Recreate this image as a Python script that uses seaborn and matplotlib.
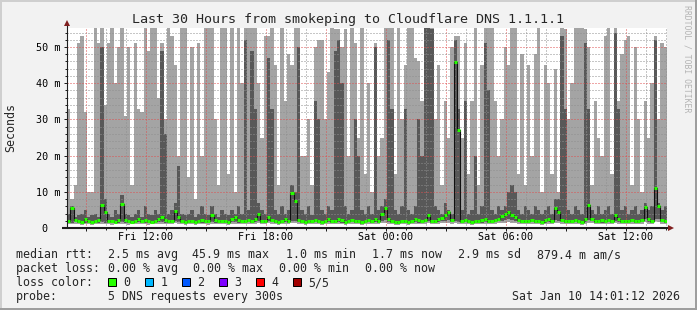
import numpy as np
import pandas as pd
import matplotlib
matplotlib.use("Agg")
import matplotlib.pyplot as plt
import seaborn as sns
from matplotlib.ticker import MultipleLocator
from matplotlib.transforms import blended_transform_factory
from matplotlib.patches import Rectangle
from matplotlib.lines import Line2D

# ---------------- data (10-minute steps, milliseconds) ----------------
ping_max = [
    33, 8, 12, 51, 53, 32, 10, 10, 60, 51,
    60, 34, 51, 60, 40, 50, 60, 31, 50, 12,
    51, 33, 32, 60, 49, 60, 60, 36, 51, 30,
    60, 53, 45, 20, 60, 60, 14, 50, 8, 51,
    20, 60, 60, 60, 30, 12, 60, 60, 15, 60,
    10, 60, 40, 60, 60, 60, 60, 40, 25, 53,
    53, 60, 45, 12, 60, 35, 48, 45, 60, 60,
    20, 20, 30, 12, 50, 52, 52, 30, 43, 60,
    55, 55, 50, 55, 20, 60, 51, 25, 60, 15,
    40, 10, 51, 20, 25, 60, 60, 60, 15, 60,
    30, 45, 60, 60, 47, 46, 35, 60, 60, 60,
    30, 45, 12, 35, 25, 50, 53, 53, 25, 51,
    15, 35, 60, 12, 45, 60, 60, 60, 35, 20,
    30, 50, 45, 60, 60, 15, 48, 12, 45, 20,
    48, 60, 10, 45, 40, 15, 44, 10, 60, 55,
    30, 40, 60, 60, 60, 55, 50, 12, 35, 25,
    20, 53, 60, 15, 56, 35, 48, 52, 53, 12,
    50, 30, 10, 35, 25, 40, 53, 30, 51, 50,
]
ping_hi = [
    4, 6, 3, 3.5, 4, 5, 3, 3.5, 4, 3,
    50, 8, 4, 3, 5, 4, 9, 4, 3.5, 3,
    4, 5, 3, 6, 4, 3.5, 5, 4, 49, 26,
    4, 5, 7, 17, 4, 3.5, 4, 5, 3, 4,
    6, 4, 3.5, 6, 4, 3, 5, 4, 3.5, 5,
    4, 6, 4, 52, 5, 49, 33, 7, 5, 4,
    47, 33, 5, 4, 6, 4, 5, 12, 10, 50,
    5, 4, 6, 3.5, 35, 30, 5, 4, 6, 5,
    49, 52, 40, 6, 4, 5, 30, 20, 5, 4,
    6, 4, 50, 5, 6, 8, 52, 33, 5, 4,
    6, 33, 5, 4, 6, 30, 20, 60, 60, 55,
    6, 5, 4, 7, 5, 4, 52, 33, 5, 35,
    4, 5, 20, 4, 6, 51, 38, 5, 4, 6,
    5, 6, 10, 12, 10, 5, 4, 6, 5, 4,
    6, 5, 4, 5, 6, 4, 8, 8, 53, 33,
    5, 4, 6, 5, 4, 51, 33, 5, 4, 6,
    4, 5, 6, 4, 54, 33, 5, 6, 4, 5,
    6, 4, 5, 7, 5, 6, 52, 7, 5, 6,
]
median_rtt = [
    2.0, 5.4, 2.2, 1.8, 1.7, 2.4, 1.9, 1.6, 1.8, 2.1,
    6.4, 4.5, 2.0, 1.8, 1.7, 2.2, 6.5, 2.1, 1.9, 1.7,
    2.0, 2.6, 1.8, 2.3, 1.9, 1.7, 2.0, 2.5, 3.0, 2.2,
    1.8, 2.0, 4.7, 3.0, 1.9, 1.7, 1.8, 2.0, 1.7, 1.9,
    2.3, 2.0, 1.8, 3.6, 2.2, 1.8, 1.9, 2.0, 1.7, 2.4,
    3.0, 2.1, 1.8, 2.0, 2.3, 1.9, 2.6, 4.0, 2.0, 1.8,
    3.0, 2.2, 1.9, 1.7, 2.0, 2.4, 1.8, 9.6, 7.5, 2.2,
    1.9, 1.7, 2.0, 1.8, 2.3, 2.0, 1.7, 1.9, 2.4, 2.0,
    1.8, 2.6, 2.1, 1.7, 1.9, 2.3, 2.0, 1.8, 1.6, 2.0,
    2.2, 1.8, 2.5, 1.9, 4.0, 5.5, 2.4, 2.0, 1.7, 1.6,
    1.8, 2.0, 1.7, 1.9, 2.4, 2.1, 1.8, 2.2, 3.5, 2.0,
    1.9, 2.4, 2.8, 3.6, 4.5, 2.2, 45.9, 27.0, 2.0, 2.3,
    1.9, 1.7, 2.0, 1.8, 2.1, 2.4, 2.0, 1.8, 2.2, 2.6,
    3.2, 3.8, 4.5, 3.5, 3.0, 2.3, 2.0, 1.8, 1.9, 2.2,
    2.0, 1.8, 1.7, 2.1, 2.4, 2.0, 5.5, 4.5, 2.2, 1.9,
    1.8, 2.0, 2.3, 1.9, 1.7, 2.4, 6.3, 2.5, 2.0, 1.8,
    2.1, 1.9, 2.2, 1.8, 3.5, 2.4, 2.0, 1.8, 1.9, 2.3,
    2.0, 1.8, 2.2, 5.8, 2.4, 2.0, 11.0, 6.0, 2.2, 2.0,
]
ping_lo = [
    1.5, 1.4, 1.6, 1.4, 1.3, 1.5, 1.4, 1.3, 1.4, 1.5,
    1.6, 1.5, 1.4, 1.3, 1.4, 1.5, 1.6, 1.4, 1.3, 1.4,
    1.5, 1.6, 1.4, 1.5, 1.3, 1.4, 1.5, 1.6, 1.7, 1.5,
    1.4, 1.5, 1.8, 1.6, 1.4, 1.3, 1.4, 1.5, 1.3, 1.4,
    1.5, 1.4, 1.3, 1.7, 1.5, 1.4, 1.4, 1.5, 1.3, 1.6,
    1.7, 1.5, 1.4, 1.5, 1.6, 1.4, 1.6, 1.8, 1.5, 1.4,
    1.8, 1.6, 1.4, 1.3, 1.5, 1.6, 1.4, 2.0, 1.9, 1.6,
    1.4, 1.3, 1.5, 1.4, 1.6, 1.5, 1.3, 1.4, 1.6, 1.5,
    1.4, 1.7, 1.5, 1.3, 1.4, 1.6, 1.5, 1.4, 1.2, 1.5,
    1.6, 1.4, 1.7, 1.4, 2.0, 2.2, 1.7, 1.5, 1.3, 1.2,
    1.4, 1.5, 1.3, 1.4, 1.6, 1.5, 1.4, 1.6, 1.9, 1.5,
    1.4, 1.6, 1.8, 2.0, 2.2, 1.6, 1.8, 1.7, 1.5, 1.6,
    1.4, 1.3, 1.5, 1.4, 1.5, 1.6, 1.5, 1.4, 1.6, 1.8,
    2.0, 2.2, 2.4, 2.1, 1.9, 1.6, 1.5, 1.4, 1.4, 1.6,
    1.5, 1.4, 1.3, 1.5, 1.7, 1.5, 2.2, 2.0, 1.6, 1.4,
    1.4, 1.5, 1.6, 1.4, 1.3, 1.7, 2.2, 1.8, 1.5, 1.4,
    1.5, 1.4, 1.6, 1.4, 1.9, 1.7, 1.5, 1.4, 1.4, 1.6,
    1.5, 1.4, 1.6, 2.4, 1.7, 1.5, 2.6, 2.4, 1.6, 1.5,
]
ping_min = [
    1.1, 1.0, 1.2, 1.0, 0.9, 1.1, 1.0, 0.9, 1.0, 1.1,
    1.2, 1.1, 1.0, 0.9, 1.0, 1.1, 1.2, 1.0, 0.9, 1.0,
    1.1, 1.2, 1.0, 1.1, 0.9, 1.0, 1.1, 1.2, 1.2, 1.1,
    1.0, 1.1, 1.3, 1.2, 1.0, 0.9, 1.0, 1.1, 0.9, 1.0,
    1.1, 1.0, 0.9, 1.2, 1.1, 1.0, 1.0, 1.1, 0.9, 1.2,
    1.2, 1.1, 1.0, 1.1, 1.2, 1.0, 1.1, 1.3, 1.1, 1.0,
    1.3, 1.2, 1.0, 0.9, 1.1, 1.2, 1.0, 1.4, 1.3, 1.2,
    1.0, 0.9, 1.1, 1.0, 1.2, 1.1, 0.9, 1.0, 1.2, 1.1,
    1.0, 1.2, 1.1, 0.9, 1.0, 1.2, 1.1, 1.0, 0.9, 1.1,
    1.2, 1.0, 1.2, 1.0, 1.4, 1.5, 1.2, 1.1, 0.9, 0.9,
    1.0, 1.1, 0.9, 1.0, 1.2, 1.1, 1.0, 1.2, 1.3, 1.1,
    1.0, 1.2, 1.3, 1.4, 1.5, 1.2, 1.3, 1.2, 1.1, 1.2,
    1.0, 0.9, 1.1, 1.0, 1.1, 1.2, 1.1, 1.0, 1.2, 1.3,
    1.4, 1.5, 1.6, 1.5, 1.4, 1.2, 1.1, 1.0, 1.0, 1.2,
    1.1, 1.0, 0.9, 1.1, 1.2, 1.1, 1.5, 1.4, 1.2, 1.0,
    1.0, 1.1, 1.2, 1.0, 0.9, 1.2, 1.5, 1.3, 1.1, 1.0,
    1.1, 1.0, 1.2, 1.0, 1.3, 1.2, 1.1, 1.0, 1.0, 1.2,
    1.1, 1.0, 1.2, 1.6, 1.2, 1.1, 1.8, 1.6, 1.2, 1.1,
]

x_tick_hours = [12, 18, 24, 30, 36]
x_tick_labels = ["Fri 12:00", "Fri 18:00", "Sat 00:00", "Sat 06:00", "Sat 12:00"]
y_tick_values = [0, 10, 20, 30, 40, 50]
y_tick_labels = ["0", "10 m", "20 m", "30 m", "40 m", "50 m"]

rtt_stats = ["2.5 ms avg", "45.9 ms max", "1.0 ms min", "1.7 ms now", "2.9 ms sd", "879.4 m am/s"]
loss_stats = ["0.00 % avg", "0.00 % max", "0.00 % min", "0.00 % now"]
loss_labels = ["0", "1", "2", "3", "4", "5/5"]
loss_colors = ["#26ff00", "#00b8ff", "#0059ff", "#7e00ff", "#ff0000", "#a10000"]

TITLE = "Last 30 Hours from smokeping to Cloudflare DNS 1.1.1.1"
PROBE = "5 DNS requests every 300s"
STAMP = "Sat Jan 10 14:01:12 2026"

# ---------------- layout ----------------
W, H = 697, 310
START = 8.05          # hours since Fri 00:00 at left edge
SPAN = 30.0
STEP = 1.0 / 6.0
YTOP = 55.25

sns.set_style("white")
plt.rcParams["font.family"] = ["DejaVu Sans Mono", "DejaVu Sans"]

fig = plt.figure(figsize=(W / 100, H / 100), dpi=100, facecolor="#f2f2f2")
ax = fig.add_axes([67 / W, 1 - 228 / H, 600 / W, 200 / H])
ax.set_facecolor("white")

n = len(median_rtt)
t = START + np.arange(n + 1) * STEP


def ext(a):
    a = np.asarray(a, dtype=float)
    return np.append(a, a[-1])


# smoke
ax.fill_between(t, ext(ping_min), ext(ping_max), step="post",
                color="#a4a4a4", lw=0, zorder=1)
ax.fill_between(t, ext(ping_lo), ext(ping_hi), step="post",
                color="#585858", lw=0, zorder=2)

# median line
df = pd.DataFrame({"t": t, "median": ext(median_rtt)})
sns.lineplot(data=df, x="t", y="median", drawstyle="steps-post",
             color="#101010", lw=0.8, ax=ax, zorder=3)
ax.hlines(median_rtt, t[:-1], t[1:], colors=loss_colors[0], lw=2.2,
          capstyle="butt", zorder=4)

ax.set_xlim(START, START + SPAN)
ax.set_ylim(0, YTOP)
ax.set_xlabel("")
ax.set_ylabel("")

ax.xaxis.set_major_locator(MultipleLocator(3))
ax.xaxis.set_minor_locator(MultipleLocator(1))
ax.yaxis.set_major_locator(MultipleLocator(10))
ax.yaxis.set_minor_locator(MultipleLocator(2))
ax.set_axisbelow(False)
ax.grid(which="major", color=(0.87, 0.31, 0.31, 0.6), lw=0.72,
        linestyle=(0, (1, 2)), snap=True)
ax.grid(which="minor", color=(0.56, 0.56, 0.56, 0.75), lw=0.72,
        linestyle=(0, (1, 2)), snap=True)
ax.tick_params(which="both", direction="out", labelleft=False, labelbottom=False,
               color="#1f1f1f", width=0.72, bottom=True, left=True)
ax.tick_params(which="major", length=2.2)
ax.tick_params(which="minor", length=1.4)
for s in ax.spines.values():
    s.set_visible(False)

# axes lines and arrows
ax.plot([START - 0.25, START + SPAN + 0.05], [0, 0], color="#1f1f1f", lw=1.5,
        clip_on=False, zorder=6, solid_capstyle="butt")
ax.plot([START, START], [0, 56.0], color="#1f1f1f", lw=0.8,
        clip_on=False, zorder=6)
ax.plot([START], [56.5], marker="^", ms=4.5, mew=0, color="#801f1f",
        clip_on=False, zorder=7)
ax.plot([START + SPAN + 0.175], [0], marker=">", ms=4.5, mew=0, color="#801f1f",
        clip_on=False, zorder=7)

# tick labels
tr = blended_transform_factory(ax.transAxes, ax.transData)
for v, lab in zip(y_tick_values, y_tick_labels):
    xr = 60.5 if v else 47.5
    ax.text((xr - 67) / 600, v, lab, transform=tr, ha="right",
            va="center_baseline", fontsize=7.3, color="black")
trx = blended_transform_factory(ax.transData, ax.transAxes)
for h, lab in zip(x_tick_hours, x_tick_labels):
    ax.text(h, (228 - 237.5) / 200, lab, transform=trx, ha="center",
            va="center", fontsize=7.3, color="black")


def fx(px):
    return px / W


def fy(py):
    return 1 - py / H


fig.text(fx(348.5), fy(19), TITLE, ha="center", va="center", fontsize=9.6)
fig.text(fx(11), fy(128), "Seconds", rotation=90, ha="center", va="center", fontsize=8.4)
fig.text(fx(687.5), fy(59), "RRDTOOL / TOBI OETIKER", rotation=270, ha="center",
         va="center", fontsize=5.9, color="#b4b4b4")

LF = 8.4
rows = [254.5, 268.5, 282.5, 296.5]
fig.text(fx(16), fy(rows[0]), "median rtt:", ha="left", va="center", fontsize=LF)
for xp, s in zip([107.5, 192.5, 286.5, 372.5, 458, 537], rtt_stats):
    fig.text(fx(xp), fy(rows[0]), s, ha="left", va="center", fontsize=LF)
fig.text(fx(16), fy(rows[1]), "packet loss:", ha="left", va="center", fontsize=LF)
for xp, s in zip([107.5, 193, 279, 365], loss_stats):
    fig.text(fx(xp), fy(rows[1]), s, ha="left", va="center", fontsize=LF)
fig.text(fx(16), fy(rows[2]), "loss color:", ha="left", va="center", fontsize=LF)
for i, (lab, col) in enumerate(zip(loss_labels, loss_colors)):
    bx = 108.4 + i * 36.9
    fig.add_artist(Rectangle((fx(bx), fy(285.5)), 8 / W, 8 / H, transform=fig.transFigure,
                             facecolor=col, edgecolor="black", lw=0.72))
    fig.text(fx(bx + 15.2), fy(rows[2]), lab, ha="left", va="center", fontsize=LF)
fig.text(fx(16), fy(rows[3]), "probe:", ha="left", va="center", fontsize=LF)
fig.text(fx(107.5), fy(rows[3]), PROBE, ha="left", va="center", fontsize=LF)
fig.text(fx(680.5), fy(rows[3]), STAMP, ha="right", va="center", fontsize=LF)

# 3D frame
lw2 = 1.44
fig.add_artist(Line2D([0, 1], [1 - 1 / H, 1 - 1 / H], transform=fig.transFigure, color="#cfcfcf", lw=lw2))
fig.add_artist(Line2D([1 / W, 1 / W], [0, 1], transform=fig.transFigure, color="#cfcfcf", lw=lw2))
fig.add_artist(Line2D([0, 1], [1 / H, 1 / H], transform=fig.transFigure, color="#9e9e9e", lw=lw2))
fig.add_artist(Line2D([1 - 1 / W, 1 - 1 / W], [0, 1], transform=fig.transFigure, color="#9e9e9e", lw=lw2))

fig.savefig("out.png", dpi=100, facecolor=fig.get_facecolor())
